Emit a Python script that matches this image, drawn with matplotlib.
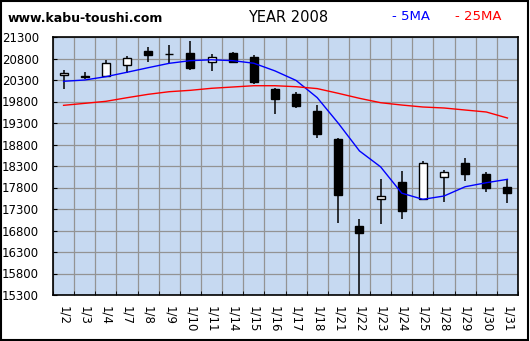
import numpy as np
import matplotlib
matplotlib.use('Agg')
import matplotlib.pyplot as plt
from matplotlib.patches import Rectangle
from matplotlib.ticker import FixedLocator

dates = ['1/2', '1/3', '1/4', '1/7', '1/8', '1/9', '1/10', '1/11', '1/14', '1/15', '1/16',
         '1/17', '1/18', '1/21', '1/22', '1/23', '1/24', '1/25', '1/28', '1/29', '1/30', '1/31']
open_ = [20411, 20395, 20395, 20657, 20975, 20900, 20929, 20713, 20929, 20836, 20094,
         19978, 19583, 18933, 16899, 17534, 17936, 17534, 18036, 18361, 18122, 17820]
high = [20534, 20495, 20766, 20859, 21068, 21114, 21207, 20906, 20952, 20889, 20110,
        20024, 19722, 18945, 17077, 18006, 18191, 18423, 18214, 18493, 18152, 18006]
low = [20087, 20319, 20380, 20458, 20713, 20704, 20541, 20518, 20690, 20210, 19520,
       19660, 18941, 16968, 15330, 16962, 17078, 17520, 17456, 17943, 17688, 17432]
close = [20465, 20360, 20697, 20806, 20889, 20910, 20588, 20836, 20727, 20249, 19862,
         19706, 19033, 17618, 16737, 17604, 17247, 18377, 18168, 18105, 17780, 17664]
ma5 = [20270, 20300, 20377, 20480, 20586, 20688, 20750, 20770, 20750, 20690, 20512,
       20290, 19890, 19293, 18650, 18280, 17668, 17525, 17602, 17818, 17911, 17990]
ma25 = [19711, 19757, 19804, 19888, 19967, 20028, 20060, 20107, 20137, 20167, 20167,
        20144, 20100, 19990, 19874, 19772, 19718, 19672, 19649, 19602, 19556, 19416]
yticks = list(range(15300, 21301, 500))

fig = plt.figure(figsize=(5.30, 3.41), dpi=100)
fig.patch.set_facecolor('white')
ax = fig.add_axes([53/530, 46/341, 465/530, 258/341])
ax.set_facecolor('#C6D9F1')

x = np.arange(len(dates))
o = np.array(open_)
c = np.array(close)

# wicks then bodies
ax.vlines(x, low, high, color='black', lw=1.1, zorder=3)
up = c >= o
body_bot = np.minimum(o, c)
body_h = np.abs(c - o)
ax.bar(x[up], body_h[up], bottom=body_bot[up], width=0.38,
       color='white', edgecolor='black', lw=1, zorder=4)
ax.bar(x[~up], body_h[~up], bottom=body_bot[~up], width=0.38,
       color='black', edgecolor='black', lw=1, zorder=4)

ax.plot(x, ma5, color='#0000FF', lw=1, zorder=5)
ax.plot(x, ma25, color='#FF0000', lw=1, zorder=5)

ax.set_xlim(-0.5, len(dates) - 0.5)
ax.set_ylim(15300, 21300)
ax.set_yticks(yticks)
ax.set_yticklabels([str(v) for v in yticks])
ax.set_xticks(x)
ax.set_xticklabels(dates, rotation=-90, va='top', ha='center')
ax.xaxis.set_minor_locator(FixedLocator(np.arange(len(dates) + 1) - 0.5))

ax.grid(True, which='minor', axis='x', color='#939393', lw=0.9, zorder=1)
ax.grid(True, which='major', axis='y', color='#939393', lw=0.9, zorder=1)
ax.set_axisbelow(True)
ax.tick_params(axis='x', which='major', length=0, pad=8, labelsize=8.5)
ax.tick_params(axis='x', which='minor', direction='in', length=3, color='black')
ax.tick_params(axis='y', direction='in', length=3, color='black', pad=10, labelsize=8.5)
for s in ax.spines.values():
    s.set_linewidth(1.2)
    s.set_color('black')

fig.text(8/530, 1 - 18/341, 'www.kabu-toushi.com', fontsize=9, fontweight='bold',
         va='center', ha='left')
fig.text(288/530, 1 - 17/341, 'YEAR 2008', fontsize=10.5, va='center', ha='center')
fig.text(392/530, 1 - 17/341, '- 5MA', fontsize=9.5, color='#0000FF', va='center', ha='left')
fig.text(455/530, 1 - 17/341, '- 25MA', fontsize=9.5, color='#FF0000', va='center', ha='left')

fig.patches.append(Rectangle((0.002, 0.003), 0.994, 0.993, transform=fig.transFigure,
                             fill=False, edgecolor='black', lw=1.5))

plt.savefig('out.png', dpi=100)
